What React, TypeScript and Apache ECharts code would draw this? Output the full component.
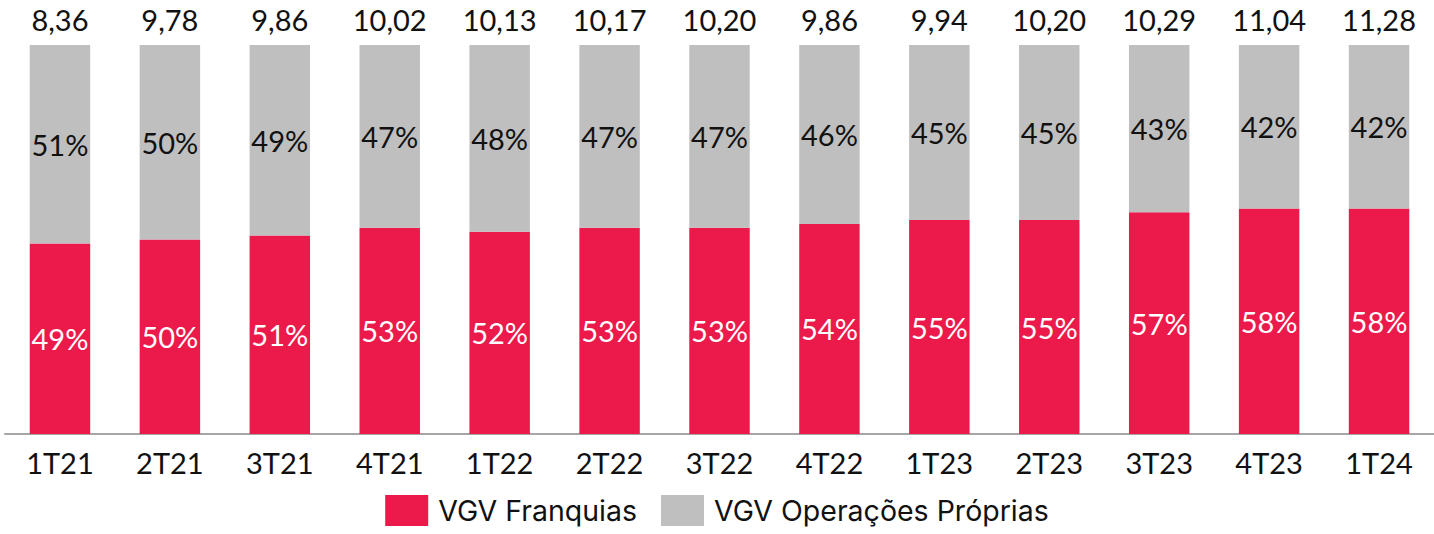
import React, { useEffect, useRef } from "react";
import * as echarts from "echarts";

const categories = ["1T21", "2T21", "3T21", "4T21", "1T22", "2T22", "3T22", "4T22", "1T23", "2T23", "3T23", "4T23", "1T24"];
const franquias = [49, 50, 51, 53, 52, 53, 53, 54, 55, 55, 57, 58, 58];
const proprias = [51, 50, 49, 47, 48, 47, 47, 46, 45, 45, 43, 42, 42];
const totals = [8.36, 9.78, 9.86, 10.02, 10.13, 10.17, 10.2, 9.86, 9.94, 10.2, 10.29, 11.04, 11.28];

const RED = "#EC1A4B";
const GRAY = "#BFBFBF";
const LABEL_FONT = "Lato, 'Liberation Sans', sans-serif";

export default function App() {
  const ref = useRef<HTMLDivElement>(null);
  useEffect(() => {
    document.body.style.margin = "0";
    if (!ref.current) return;
    const chart = echarts.init(ref.current, undefined, { renderer: "svg" });
    chart.setOption({
      animation: false,
      grid: { left: 5, right: -2, top: 45, bottom: 100, containLabel: false },
      legend: {
        data: ["VGV Franquias", "VGV Operações Próprias"],
        bottom: 3,
        left: "center",
        itemWidth: 43,
        itemHeight: 31,
        itemGap: 24,
        icon: "rect",
        textStyle: { fontSize: 28.5, color: "#111", fontFamily: "Inter, 'Noto Sans', sans-serif", padding: [0, 0, 0, 5] },
      },
      xAxis: {
        type: "category",
        data: categories,
        axisLine: { show: true, lineStyle: { color: "#A6A6A6", width: 2 } },
        axisTick: { show: false },
        axisLabel: { fontSize: 29, color: "#111", margin: 14, fontFamily: LABEL_FONT },
      },
      yAxis: { type: "value", min: 0, max: 100, show: false, splitLine: { show: false } },
      series: [
        {
          name: "VGV Franquias",
          type: "bar",
          stack: "s",
          data: franquias,
          barCategoryGap: "45%",
          itemStyle: { color: RED },
          label: { show: true, position: "inside", formatter: "{c}%", color: "#fff", fontSize: 29, fontFamily: LABEL_FONT },
        },
        {
          name: "VGV Operações Próprias",
          type: "bar",
          stack: "s",
          data: proprias,
          itemStyle: { color: GRAY },
          label: { show: true, position: "inside", formatter: "{c}%", color: "#111", fontSize: 29, fontFamily: LABEL_FONT },
        },
        {
          name: "total",
          type: "bar",
          stack: "s",
          data: totals.map(() => 0),
          itemStyle: { color: "transparent" },
          label: {
            show: true,
            position: "top",
            distance: 11,
            formatter: (p: any) => totals[p.dataIndex].toFixed(2).replace(".", ","),
            color: "#111",
            fontSize: 29,
            fontFamily: LABEL_FONT,
          },
        },
      ],
    });
    return () => chart.dispose();
  }, []);
  return <div ref={ref} style={{ position: "absolute", left: 0, top: 0, width: 1434, height: 534 }} />;
}
